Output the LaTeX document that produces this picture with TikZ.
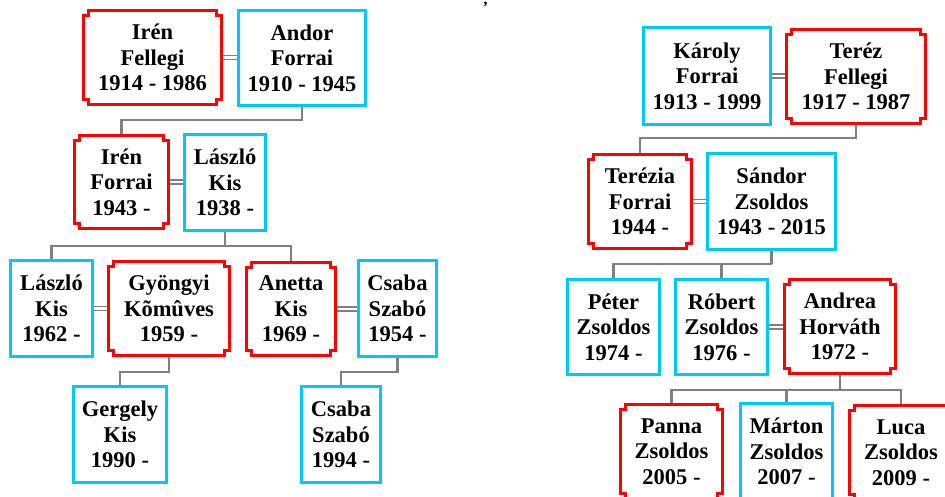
\documentclass[tikz,border=0pt]{standalone}
\usepackage{fontspec}
\setmainfont{Liberation Serif}
\usetikzlibrary{calc}

\definecolor{kinblue}{RGB}{0,200,245}
\definecolor{kinred}{RGB}{255,0,0}
\definecolor{kingray}{RGB}{128,128,128}

\pgfdeclarelayer{back}
\pgfsetlayers{back,main}

\tikzset{
  person/.style={align=center, inner sep=0pt, outer sep=0pt, line width=2.6pt,
    font=\bfseries\fontsize{22.5}{25.5}\selectfont},
  male/.style={person, draw=kinblue},
  female/.style={person},
  boxsize/.style 2 args={minimum width=#1pt, minimum height=#2pt},
  kin/.style={draw=kingray, line width=2.2pt, line join=miter},
  wed/.style={draw=kingray, double=white, double distance=2.6pt, line width=1.4pt},
  notchline/.style={draw=kinred, line width=2.6pt, line join=miter},
}

% outline of a female box: rectangle with small square notches cut into the corners
\newcommand\notchbox[1]{%
  \draw[notchline]
    ([xshift=5pt]#1.north west) -- ([xshift=-5pt]#1.north east)
    -- ++(0pt,-5pt) -- ++(5pt,0pt)
    -- ([yshift=5pt]#1.south east) -- ++(-5pt,0pt) -- ++(0pt,-5pt)
    -- ([xshift=5pt]#1.south west) -- ++(0pt,5pt) -- ++(-5pt,0pt)
    -- ([yshift=-5pt]#1.north west) -- ++(5pt,0pt) -- cycle;}

\begin{document}
\begin{tikzpicture}[x=1pt,y=-1pt]
\useasboundingbox (0,0) rectangle (945,497);

% ---- Fellegi / Forrai / Kis / Szabó branch
\node[female, boxsize={138}{94}] (irenFe)   at (152.5,57.5) {Irén\\Fellegi\\1914 - 1986};
\node[male,   boxsize={127}{95}] (andor)    at (302,58)     {Andor\\Forrai\\1910 - 1945};
\node[female, boxsize={94}{93}]  (irenFo)   at (121.5,182)  {Irén\\Forrai\\1943 -};
\node[male,   boxsize={81}{96}]  (laszlo)   at (225,182.5)  {László\\Kis\\1938 -};
\node[male,   boxsize={82}{96}]  (laszloJr) at (51.5,308.5) {László\\Kis\\1962 -};
\node[female, boxsize={121}{94}] (gyongyi)  at (169,308.5)  {Gyöngyi\\Kõmûves\\1959 -};
\node[female, boxsize={89}{93}]  (anetta)   at (291,309)    {Anetta\\Kis\\1969 -};
\node[male,   boxsize={78}{96}]  (csaba)    at (397.5,308.5){Csaba\\Szabó\\1954 -};
\node[male,   boxsize={93}{96}]  (gergely)  at (120,434.5)  {Gergely\\Kis\\1990 -};
\node[male,   boxsize={79}{96}]  (csabaJr)  at (341,434.5)  {Csaba\\Szabó\\1994 -};

% ---- Forrai / Fellegi / Zsoldos branch
\node[male,   boxsize={127}{97}] (karoly)   at (707,76)     {Károly\\Forrai\\1913 - 1999};
\node[female, boxsize={139}{94}] (terez)    at (856,76.5)   {Teréz\\Fellegi\\1917 - 1987};
\node[female, boxsize={103}{94}] (terezia)  at (640,201.5)  {Terézia\\Forrai\\1944 -};
\node[male,   boxsize={128}{96}] (sandor)   at (771.5,201.5){Sándor\\Zsoldos\\1943 - 2015};
\node[male,   boxsize={92}{95}]  (peter)    at (613.5,327)  {Péter\\Zsoldos\\1974 -};
\node[male,   boxsize={92}{95}]  (robert)   at (721.5,327)  {Róbert\\Zsoldos\\1976 -};
\node[female, boxsize={111}{94}] (andrea)   at (840,326.5)  {Andrea\\Horváth\\1972 -};
\node[female, boxsize={102}{94}] (panna)    at (671.5,451.3){Panna\\Zsoldos\\2005 -};
\node[male,   boxsize={92}{96}]  (marton)   at (786.5,451.5){Márton\\Zsoldos\\2007 -};
\node[female, boxsize={103}{94}] (luca)     at (901,452.5)  {Luca\\Zsoldos\\2009 -};

\node[inner sep=0pt, anchor=north, font=\bfseries\fontsize{16}{16}\selectfont] (mark) at (485.5,2) {,};

\foreach \n in {irenFe,irenFo,gyongyi,anetta,terez,terezia,andrea,panna,luca}
  \notchbox{\n};

\begin{pgfonlayer}{back}
  % marriages
  \draw[wed] (irenFe.east)   -- (irenFe.east -| andor.west);
  \draw[wed] (irenFo.east)   -- (irenFo.east -| laszlo.west);
  \draw[wed] (laszloJr.east) -- (laszloJr.east -| gyongyi.west);
  \draw[wed] (anetta.east)   -- (anetta.east -| csaba.west);
  \draw[wed] (karoly.east)   -- (karoly.east -| terez.west);
  \draw[wed] (terezia.east)  -- (terezia.east -| sandor.west);
  \draw[wed] (robert.east)   -- (robert.east -| andrea.west);
  % descent
  \draw[kin] (andor.south) -- (andor.south |- 0,120) -| (irenFo.north);
  \draw[kin] (laszlo.south) -- (laszlo.south |- 0,246);
  \draw[kin] (laszloJr.north) |- (laszlo.south |- 0,246) -| (anetta.north);
  \draw[kin] (gyongyi.south) -- (gyongyi.south |- 0,372) -| (gergely.north);
  \draw[kin] (csaba.south) -- (csaba.south |- 0,372) -| (csabaJr.north);
  \draw[kin] (terez.south) -- (terez.south |- 0,138) -| (terezia.north);
  \draw[kin] (sandor.south) -- (sandor.south |- 0,264);
  \draw[kin] (peter.north) |- (sandor.south |- 0,264);
  \draw[kin] (robert.north) -- (robert.north |- 0,264);
  \draw[kin] (andrea.south) -- (andrea.south |- 0,390);
  \draw[kin] (panna.north) |- (luca.north |- 0,390) -- (luca.north);
  \draw[kin] (marton.north) -- (marton.north |- 0,390);
\end{pgfonlayer}
\end{tikzpicture}
\end{document}
